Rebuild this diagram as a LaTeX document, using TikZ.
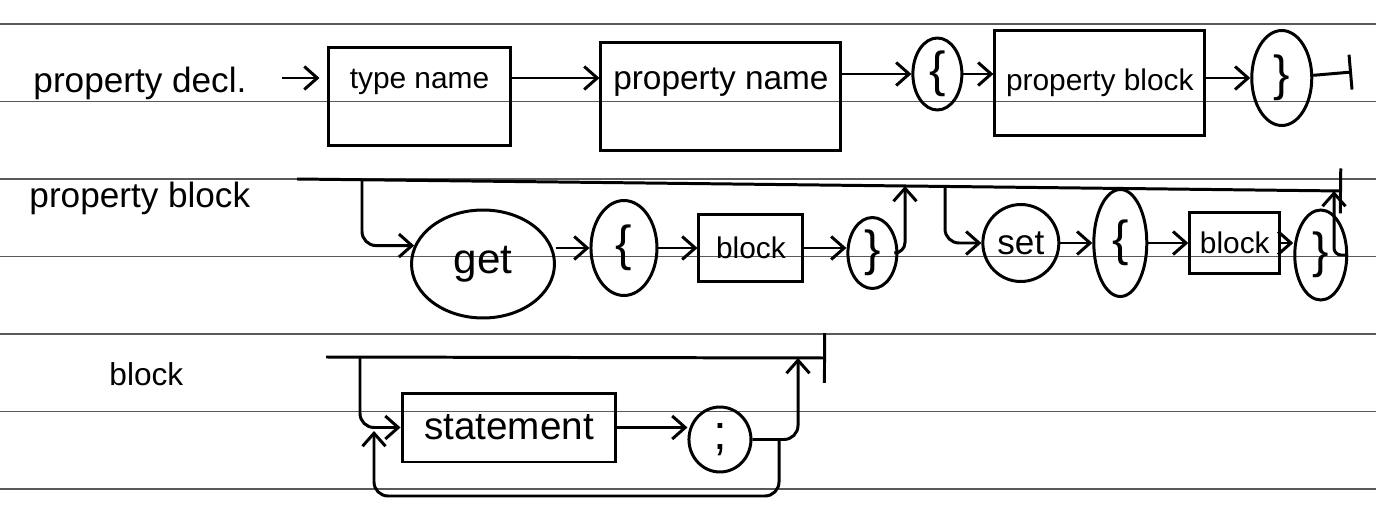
\documentclass[tikz,border=0pt]{standalone}
\usepackage{fontspec}
\setmainfont{Liberation Sans}
\usetikzlibrary{shapes.geometric, arrows.meta, positioning}

\begin{document}
\begin{tikzpicture}[
    x=0.02cm, y=-0.02cm,
    line width=1.7pt,
    >={Straight Barb[length=2.6mm, width=4.6mm]},
    ruling/.style={black!65, line width=0.8pt},
    rowname/.style={inner sep=0pt, font=\fontsize{20}{24}\selectfont},
    box/.style={rectangle, draw, inner sep=2pt, font=\fontsize{17}{20}\selectfont},
    tall/.style={text depth=0.72cm},
    brace/.style={ellipse, draw, inner sep=0pt, font=\fontsize{28}{30}\selectfont},
    word/.style={ellipse, draw, inner sep=0pt, font=\fontsize{20}{24}\selectfont},
    arrow/.style={->},
    railend/.style={-{Bar[width=#1]}}
]
\useasboundingbox (0,0) rectangle (1376,527);

% ruled paper
\draw[ruling] (0,24) -- (1376,24) (0,101.5) -- (1376,101.5) (0,179) -- (1376,179)
    (0,256.5) -- (1376,256.5) (0,334) -- (1376,334) (0,411.5) -- (1376,411.5)
    (0,489) -- (1376,489);

% property decl.
\node[rowname, anchor=base west] (declname) at (32,92) {property decl.};
\coordinate (declstart) at (282,78);
\node[box, tall, minimum width=3.66cm, minimum height=1.98cm] (typename) at (419.5,96.5) {type name};
\node[box, tall, minimum width=4.8cm, minimum height=2.16cm, right=1.74cm of typename, font=\fontsize{19}{22}\selectfont] (propname) {property name};
\node[brace, minimum width=0.98cm, minimum height=1.44cm, right=1.38cm of propname, yshift=0.45cm] (lbrace1) {\{};
\node[box, minimum width=4.2cm, minimum height=2.12cm, right=0.6cm of lbrace1, yshift=-0.18cm] (propblock) {property block};
\node[brace, minimum width=1.2cm, minimum height=1.9cm, right=0.88cm of propblock, yshift=0.1cm] (rbrace1) {\}};
\coordinate (declend) at (1352,72);

\draw[arrow, shorten >=4pt] (declstart) -- (declstart -| typename.west);
\draw[arrow] (typename.east |- declstart) -- (propname.west |- declstart);
\draw[arrow] (propname.east |- lbrace1) -- (lbrace1);
\draw[arrow] (lbrace1) -- (lbrace1 -| propblock.west);
\draw[arrow] (propblock.east |- rbrace1) -- (rbrace1);
\draw[railend=0.7cm] (rbrace1) -- (declend);

% property block
\node[rowname, anchor=base west] (pbname) at (28,207) {property block};
\coordinate (pbstart) at (297,179);
\coordinate (getfork) at (362,180);
\coordinate (getjoin) at (905,186);
\coordinate (setfork) at (945,187);
\coordinate (setjoin) at (1334,191);
\coordinate (pbend) at (1342,191);
\node[word, minimum width=2.86cm, minimum height=2.16cm, font=\fontsize{24}{26}\selectfont] (get) at (483,264) {get};
\node[brace, minimum width=1.32cm, minimum height=1.9cm, right=0.67cm of get, yshift=0.32cm] (lbrace2) {\{};
\node[box, minimum width=2.08cm, minimum height=1.34cm, right=0.78cm of lbrace2] (block1) {block};
\node[brace, minimum width=0.98cm, minimum height=1.42cm, right=0.84cm of block1, yshift=-0.1cm] (rbrace2) {\}};
\node[word, minimum width=1.52cm, minimum height=1.54cm, right=1.66cm of rbrace2, yshift=0.2cm] (set) {set};
\node[brace, minimum width=1.06cm, minimum height=2.14cm, right=0.64cm of set] (lbrace3) {\{};
\node[box, minimum width=1.8cm, minimum height=1.22cm, right=0.8cm of lbrace3] (block2) {block};
\node[brace, minimum width=1.04cm, minimum height=1.8cm, right=0.24cm of block2, yshift=-0.24cm] (rbrace3) {\}};

\draw[railend=0.9cm] (pbstart) -- (pbend);
\draw[arrow, rounded corners=8pt] (getfork) |- (get.165);
\draw[arrow] (lbrace2 -| get.east) -- (lbrace2);
\draw[arrow] (lbrace2) -- (lbrace2 -| block1.west);
\draw[arrow] (block1.east) -- (block1.east -| rbrace2.west);
\draw[arrow, rounded corners=6pt] (rbrace2) -| (getjoin);
\draw[arrow, rounded corners=8pt] (setfork) |- (set);
\draw[arrow] (set) -- (lbrace3);
\draw[arrow] (lbrace3) -- (block2);
\draw[arrow] (block2.east) -- (block2.east -| rbrace3.west);
\draw[arrow, rounded corners=4pt] (rbrace3) -| (setjoin);

% block
\node[rowname, anchor=base west, font=\fontsize{18}{20}\selectfont] (blkname) at (108,385) {block};
\coordinate (blkstart) at (326,357);
\coordinate (stmtfork) at (360,357);
\coordinate (blkjoin) at (798,358);
\coordinate (blkend) at (826,358);
\node[box, minimum width=4.28cm, minimum height=1.38cm, font=\fontsize{22}{24}\selectfont] (stmt) at (509,427.5) {statement};
\node[brace, minimum width=1.24cm, minimum height=1.3cm, right=1.4cm of stmt, yshift=-0.24cm] (semi) {;};
\coordinate (loopfork) at (779,439.5);
\coordinate (loopback) at (374,496);
\coordinate (looptip) at (374,431);

\draw[railend=1cm] (blkstart) -- (blkend);
\draw[arrow, rounded corners=8pt] (stmtfork) |- (stmt);
\draw[arrow] (stmt.east) -- (stmt.east -| semi.west);
\draw[arrow, rounded corners=8pt] (semi) -| (blkjoin);
\draw[arrow, rounded corners=8pt] (loopfork) |- (loopback) -- (looptip);
\end{tikzpicture}
\end{document}
